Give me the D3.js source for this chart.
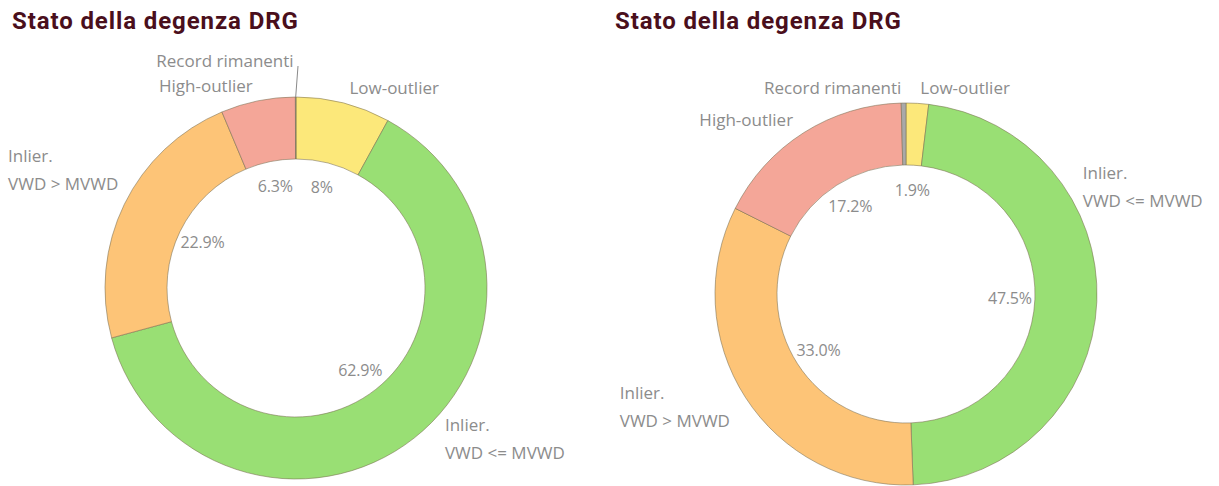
<!DOCTYPE html>
<html><head><meta charset="utf-8">
<script src="https://cdn.jsdelivr.net/npm/d3@7"></script>
<style>
html,body{margin:0;padding:0;background:#fff;}
svg{display:block;}
</style></head>
<body>
<svg id="chart" width="1219" height="486"></svg>
<script>
// ---- data ----
const title = "Stato della degenza DRG";
const categories = ["Low-outlier", "Inlier.\nVWD <= MVWD", "Inlier.\nVWD > MVWD", "High-outlier", "Record rimanenti"];
const valuesLeft  = [8.0, 62.9, 22.9, 6.3, 0.05];
const valuesRight = [1.9, 47.5, 33.0, 17.2, 0.4];
const pctLabelsLeft  = ["8%", "62.9%", "22.9%", "6.3%", ""];
const pctLabelsRight = ["1.9%", "47.5%", "33.0%", "17.2%", ""];
const colors = ["#fce87a", "#99df74", "#fdc477", "#f4a698", "#a9a9a9"];

// ---- layout (not data) ----
const W = 1219, H = 486;
const R = 191, r0 = 129, pctR = 104, lblR = 207;
const panels = [
  {values: valuesLeft, pcts: pctLabelsLeft, cx: 296, cy: 288, tx: 12,
   angleOverride: {1: 135.6, 2: 304}, radiusOverride: {1: 210, 2: 212, 4: 228}, leader: {4: true}},
  {values: valuesRight, pcts: pctLabelsRight, cx: 906, cy: 294, tx: 615,
   angleOverride: {1: 58.5}, radiusOverride: {1: 205}, leader: {}}
];
const labelFont = "'Open Sans', sans-serif";

const svg = d3.select("#chart");
const color = d3.scaleOrdinal().domain(categories).range(colors);
const pie = d3.pie().sort(null).value(d => d.v);
const arc = d3.arc().innerRadius(r0).outerRadius(R);

panels.forEach(p => {
  svg.append("text")
    .attr("x", p.tx).attr("y", 29)
    .attr("font-family", "Roboto, 'Liberation Sans', sans-serif")
    .attr("font-weight", 700).attr("font-size", 24)
    .attr("letter-spacing", 0.9)
    .attr("fill", "#4a0f1c")
    .text(title);

  const data = categories.map((c, i) => ({c, v: p.values[i], pct: p.pcts[i], i}));
  const arcs = pie(data);
  const g = svg.append("g").attr("transform", `translate(${p.cx},${p.cy})`);

  g.selectAll("path.slice").data(arcs).join("path")
    .attr("class", "slice")
    .attr("d", arc)
    .attr("fill", d => color(d.data.c))
    .attr("stroke", "rgba(120,110,80,0.55)")
    .attr("stroke-width", 1);

  // percent labels inside the hole
  g.selectAll("text.pct").data(arcs.filter(d => d.data.pct)).join("text")
    .attr("class", "pct")
    .attr("x", d => pctR * Math.sin((d.startAngle + d.endAngle) / 2))
    .attr("y", d => -pctR * Math.cos((d.startAngle + d.endAngle) / 2))
    .attr("text-anchor", "middle")
    .attr("dominant-baseline", "central")
    .attr("font-family", labelFont)
    .attr("font-size", 16)
    .attr("letter-spacing", -0.2)
    .attr("fill", "#8c8c8c")
    .text(d => d.data.pct);

  // outer category labels
  arcs.forEach(d => {
    const i = d.data.i;
    let a = (d.startAngle + d.endAngle) / 2;
    if (p.angleOverride[i] !== undefined) a = p.angleOverride[i] * Math.PI / 180;
    const rr = p.radiusOverride[i] !== undefined ? p.radiusOverride[i] : lblR;
    const x = rr * Math.sin(a), y = -rr * Math.cos(a);
    const deg = ((a * 180 / Math.PI) % 360 + 360) % 360;
    const isEnd = deg > 180;
    const lines = d.data.c.split("\n");
    const lh = 28;
    const t = g.append("text")
      .attr("text-anchor", "start")
      .attr("font-family", labelFont)
      .attr("font-size", 17)
      .attr("fill", "#8c8c8c");
    const spans = lines.map((ln, k) => t.append("tspan")
        .attr("y", y + (k - (lines.length - 1) / 2) * lh)
        .attr("dominant-baseline", "central")
        .text(ln));
    const wMax = d3.max(spans, s => s.node().getComputedTextLength());
    const x0 = isEnd ? x - 2 - wMax : x + 2;
    spans.forEach(s => s.attr("x", x0));
    if (p.leader[i]) {
      const la = (d.startAngle + d.endAngle) / 2;
      g.append("line")
        .attr("x1", R * Math.sin(la)).attr("y1", -R * Math.cos(la))
        .attr("x2", 2).attr("y2", -(rr - 6))
        .attr("stroke", "#8a8a8a").attr("stroke-width", 1);
    }
  });
});
</script>
</body></html>
